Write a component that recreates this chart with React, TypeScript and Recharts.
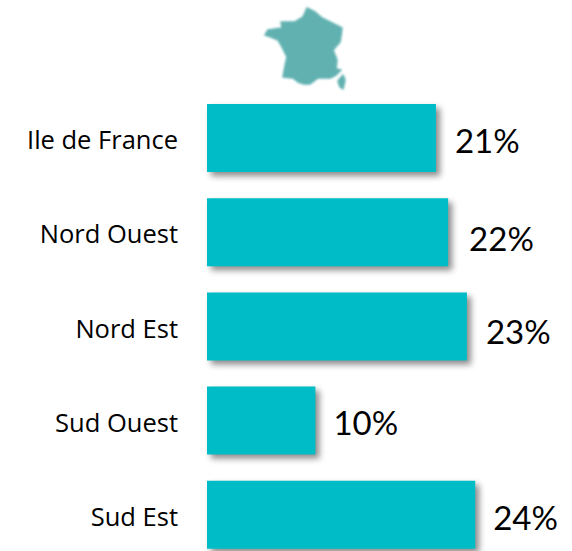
import React from 'react';
import { BarChart, Bar, XAxis, YAxis, LabelList } from 'recharts';

const regions = ['Ile de France', 'Nord Ouest', 'Nord Est', 'Sud Ouest', 'Sud Est'];
const shares = [20.7, 21.8, 23.5, 9.8, 24.25];
const shareLabels = ['21%', '22%', '23%', '10%', '24%'];

const chartData = regions.map((region, i) => ({
  region,
  share: shares[i],
  label: shareLabels[i],
}));

// the labels were nudged by hand in the original slide
const labelShiftY = [2, 6, 5, 1, 2];
const labelShiftX = [19, 21, 19, 18, 18];

const FRANCE_PATH =
  'M307 8 L315 12 L322 18 L332 23 L342 28 L341 36 L340 42 L333 50 L337 60 L336 69 L341 70 L336 75 L330 78 L318 78 L310 84 L304 84 L298 82 L293 78 L283 77 L285 66 L287 57 L282 47 L278 40 L271 37 L265 35 L268 30 L282 28 L281 22 L287 22 L295 22 L303 17 Z ' +
  'M343 75 L345 80 L343 89 L340 87 L338 81 Z';

const ShareLabel = (props: any) => {
  const { x, y, width, height, value, index } = props;
  return (
    <text
      x={x + width + labelShiftX[index]}
      y={y + height / 2 + labelShiftY[index]}
      dominantBaseline="central"
      fontFamily="Lato, sans-serif"
      fontSize={33}
      fill="#000"
    >
      {value}
    </text>
  );
};

const App: React.FC = () => {
  return (
    <div style={{ position: 'fixed', left: 0, top: 0, width: 572, height: 551, overflow: 'hidden', background: '#fff' }}>
      <svg width={572} height={100} style={{ position: 'absolute', left: 0, top: 0 }}>
        <defs>
          <filter id="soft">
            <feGaussianBlur stdDeviation="0.9" />
          </filter>
        </defs>
        <path d={FRANCE_PATH} fill="#62B1B1" stroke="#62B1B1" strokeWidth={1.5} strokeLinejoin="round" filter="url(#soft)" />
      </svg>
      <BarChart
        width={572}
        height={563}
        data={chartData}
        layout="vertical"
        margin={{ top: 91, right: 0, bottom: 1, left: 0 }}
        barSize={68}
        style={{ position: 'absolute', left: 0, top: 0 }}
      >
        <XAxis type="number" hide domain={[0, 33]} />
        <YAxis
          type="category"
          dataKey="region"
          width={207}
          axisLine={false}
          tickLine={false}
          tickSize={0}
          tickMargin={29}
          tick={{ fill: '#000', fontSize: 25.5, fontFamily: '"Open Sans", sans-serif', dy: 2 }}
        />
        <Bar
          dataKey="share"
          fill="#00BCC6"
          isAnimationActive={false}
          style={{ filter: 'drop-shadow(4px 4px 3px rgba(0,0,0,0.45))' }}
        >
          <LabelList dataKey="label" content={ShareLabel} />
        </Bar>
      </BarChart>
    </div>
  );
};

export default App;
